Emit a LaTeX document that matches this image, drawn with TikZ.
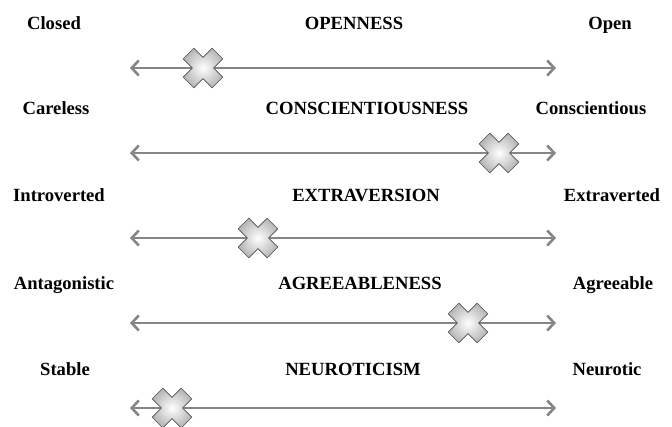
\documentclass[tikz,border=0pt]{standalone}
\usepackage{fontspec}
\setmainfont{Liberation Serif}
\usetikzlibrary{arrows.meta}

\tikzset{
  trait/.style={font=\fontsize{18.6}{22}\selectfont\bfseries, inner sep=0pt, anchor=base},
  scalearrow/.style={draw=gray!95, line width=2.6pt,
    {Straight Barb[length=7pt,width=15pt]}-{Straight Barb[length=7pt,width=15pt]}},
  crossmark/.pic={
    \filldraw[draw=gray!70!black, line width=0.6pt, inner color=white, outer color=gray!55,
      rotate=45]
      (-7.5,-20.5) -- (7.5,-20.5) -- (7.5,-7.5) -- (20.5,-7.5) -- (20.5,7.5)
      -- (7.5,7.5) -- (7.5,20.5) -- (-7.5,20.5) -- (-7.5,7.5) -- (-20.5,7.5)
      -- (-20.5,-7.5) -- (-7.5,-7.5) -- cycle;
  }
}

\begin{document}
\begin{tikzpicture}[x=1pt, y=-1pt]
  \useasboundingbox (0,0) rectangle (672,426);

  \foreach \i/\ty/\ay/\lx/\lft/\mx/\mid/\rx/\rgt/\cx in {%
      1/29/68/54/Closed/354/OPENNESS/610/Open/203,
      2/114/153/56/Careless/367/CONSCIENTIOUSNESS/591/Conscientious/499,
      3/201/238/59/Introverted/366/EXTRAVERSION/612/Extraverted/258,
      4/289/323/64/Antagonistic/360/AGREEABLENESS/613/Agreeable/468,
      5/375/408/65/Stable/353/NEUROTICISM/607/Neurotic/172}{%
    % labels of the scale
    \node[trait] (low\i)  at (\lx,\ty) {\lft};
    \node[trait] (name\i) at (\mx,\ty) {\mid};
    \node[trait] (high\i) at (\rx,\ty) {\rgt};
    % the scale itself
    \coordinate (start\i) at (130,\ay);
    \coordinate (end\i)   at (556,\ay);
    \draw[scalearrow] (start\i) -- (end\i);
    \pic at (\cx,\ay) {crossmark};
  }
\end{tikzpicture}
\end{document}
